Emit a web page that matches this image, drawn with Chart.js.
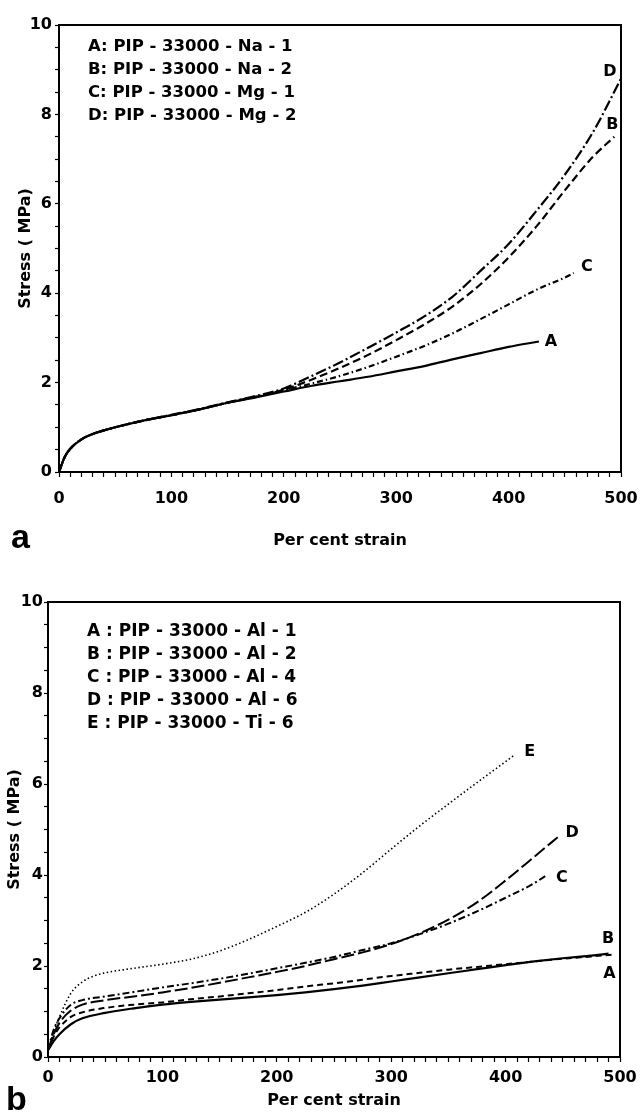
<!DOCTYPE html>
<html>
<head>
<meta charset="utf-8">
<script src="https://cdn.jsdelivr.net/npm/chart.js@4.4.1/dist/chart.umd.min.js"></script>
<style>
  html,body{margin:0;padding:0;background:#fff;}
  .box{position:absolute;left:0;width:640px;height:556px;}
  #wa{top:0;} #wb{top:556px;}
</style>
</head>
<body>
<div class="box" id="wa"><canvas id="ca" width="640" height="556"></canvas></div>
<div class="box" id="wb"><canvas id="cb" width="640" height="556"></canvas></div>
<script>
// ---------- Panel a data ----------
const aNames = ['A','B','C','D'];
const aLegend = ['A: PIP - 33000 - Na - 1','B: PIP - 33000 - Na - 2','C: PIP - 33000 - Mg - 1','D: PIP - 33000 - Mg - 2'];
const aA_x = [0,5,10,20,30,40,50,75,100,125,150,175,200,225,250,275,300,325,350,375,400,427];
const aA_y = [0,0.33,0.52,0.73,0.85,0.93,1.0,1.15,1.27,1.4,1.55,1.67,1.8,1.93,2.03,2.13,2.25,2.37,2.52,2.66,2.8,2.92];
const aB_x = [0,5,10,20,30,40,50,75,100,125,150,175,200,225,250,275,300,325,350,375,400,425,450,475,494];
const aB_y = [0,0.33,0.52,0.73,0.85,0.93,1.0,1.15,1.27,1.4,1.55,1.68,1.84,2.07,2.33,2.62,2.95,3.3,3.7,4.2,4.8,5.5,6.3,7.05,7.5];
const aC_x = [0,5,10,20,30,40,50,75,100,125,150,175,200,225,250,275,300,325,350,375,400,425,450,458];
const aC_y = [0,0.33,0.52,0.73,0.85,0.93,1.0,1.15,1.27,1.4,1.55,1.68,1.83,1.98,2.15,2.35,2.58,2.82,3.1,3.42,3.75,4.08,4.35,4.45];
const aD_x = [0,5,10,20,30,40,50,75,100,125,150,175,200,225,250,275,300,325,350,375,400,425,450,475,500];
const aD_y = [0,0.33,0.52,0.73,0.85,0.93,1.0,1.15,1.28,1.41,1.56,1.7,1.87,2.15,2.45,2.78,3.12,3.48,3.92,4.5,5.1,5.85,6.65,7.6,8.8];

// ---------- Panel b data ----------
const bNames = ['A','B','C','D','E'];
const bLegend = ['A : PIP - 33000 - Al - 1','B : PIP - 33000 - Al - 2','C : PIP - 33000 - Al - 4','D : PIP - 33000 - Al - 6','E : PIP - 33000 - Ti - 6'];
const bA_x = [0,5,10,20,30,50,75,100,125,150,175,200,225,250,275,300,325,350,375,400,425,450,475,490];
const bA_y = [0.15,0.35,0.5,0.72,0.85,0.97,1.07,1.15,1.21,1.26,1.31,1.36,1.42,1.49,1.57,1.66,1.75,1.84,1.93,2.02,2.1,2.17,2.23,2.27];
const bB_x = [0,5,10,20,30,50,75,100,125,150,175,200,225,250,275,300,325,350,375,400,425,450,475,494];
const bB_y = [0.15,0.45,0.65,0.88,0.98,1.08,1.15,1.2,1.27,1.33,1.4,1.47,1.55,1.62,1.7,1.78,1.85,1.92,1.98,2.04,2.1,2.16,2.21,2.25];
const bC_x = [0,5,10,20,30,50,75,100,125,150,175,200,225,250,275,300,325,350,375,400,425,436];
const bC_y = [0.15,0.6,0.85,1.15,1.25,1.33,1.43,1.53,1.62,1.72,1.83,1.95,2.07,2.2,2.35,2.5,2.7,2.93,3.2,3.5,3.82,4.0];
const bD_x = [0,5,10,20,30,50,75,100,125,150,175,200,225,250,275,300,325,350,375,400,425,446];
const bD_y = [0.15,0.5,0.75,1.02,1.15,1.25,1.33,1.42,1.52,1.63,1.75,1.87,2.0,2.15,2.3,2.48,2.72,3.02,3.4,3.88,4.4,4.84];
const bE_x = [0,5,10,20,30,40,50,75,100,125,150,175,200,225,250,275,300,325,350,375,408];
const bE_y = [0.15,0.55,0.88,1.4,1.65,1.78,1.85,1.95,2.04,2.15,2.33,2.58,2.87,3.18,3.58,4.05,4.57,5.08,5.56,6.03,6.64];

// ---------- styles (kept separate from data) ----------
const aDash = [[], [8,4], [6,3,1.5,3], [11,3,2,3]];
const bDash = [[], [6,4], [7,3,2,3], [13,4], [1.5,2.5]];
const bWidth = [2.2, 2, 2, 2, 1.6];
const aLabelOff = [[12,0],[-2,-12],[13,-6],[-11,-7]];
const bLabelOff = [[1,20],[-5,-16],[15,3],[14,-4],[15,-3]];

const FONT = '"DejaVu Sans", "Liberation Sans", sans-serif';

function pts(xs, ys){ return xs.map((x,i)=>({x:x, y:ys[i]})); }

function makeDatasets(series, dashes, widths){
  return series.map((s,i)=>({
    data: pts(s[0], s[1]),
    borderColor:'#000',
    borderWidth: widths ? widths[i] : 2.2,
    borderDash: dashes[i],
    pointRadius:0,
    fill:false,
    cubicInterpolationMode:'monotone'
  }));
}

function textPlugin(cfg){
  return {
    id:'txt',
    afterDatasetsDraw(chart){
      const {ctx, chartArea:ca, scales:{x,y}} = chart;
      ctx.save();
      ctx.strokeStyle='#000'; ctx.lineWidth=2;
      ctx.strokeRect(ca.left, ca.top, ca.right-ca.left, ca.bottom-ca.top);
      ctx.fillStyle='#000';
      ctx.font = 'bold ' + cfg.legSize + 'px ' + FONT;
      ctx.textAlign='left'; ctx.textBaseline='middle';
      cfg.legend.forEach((t,i)=>{
        ctx.fillText(t, ca.left+cfg.legX, ca.top+cfg.legY+i*cfg.legDy);
      });
      ctx.font = 'bold 16px ' + FONT;
      ctx.textAlign='center';
      chart.data.datasets.forEach((ds,i)=>{
        const last = ds.data[ds.data.length-1];
        const px = x.getPixelForValue(last.x)+cfg.off[i][0];
        const py = y.getPixelForValue(last.y)+cfg.off[i][1];
        ctx.fillText(cfg.names[i], px, py);
      });
      ctx.font = 'bold 34px "Liberation Sans", ' + FONT;
      ctx.textAlign='left'; ctx.textBaseline='alphabetic';
      ctx.fillText(cfg.panel, cfg.panelX, cfg.panelY);
      ctx.restore();
    }
  };
}

function makeChart(id, datasets, L){
  return new Chart(document.getElementById(id), {
    type:'line',
    data:{datasets},
    options:{
      responsive:false, animation:false,
      layout:{padding:{top:L.top, right:L.right, left:0, bottom:0}},
      plugins:{legend:{display:false}, tooltip:{enabled:false}},
      scales:{
        x:{
          type:'linear', min:0, max:500,
          border:{color:'#000', width:2},
          grid:{drawOnChartArea:false, drawTicks:true, tickLength:5, tickColor:'#000', tickWidth:1.2},
          ticks:{stepSize:10, autoSkip:false, maxRotation:0, padding:L.xTickPad, color:'#000',
                 font:{family:FONT, size:16, weight:'bold'},
                 callback:(v)=> (v % 100 === 0 ? String(v) : '')},
          title:{display:true, text:'Per cent strain', color:'#000',
                 font:{family:FONT, size:16, weight:'bold'}, padding:{top:0,bottom:L.xTitlePad}},
          afterFit:(s)=>{ s.height = L.xH; s.paddingLeft = 0; s.paddingRight = 0; }
        },
        y:{
          type:'linear', min:0, max:10,
          border:{color:'#000', width:2},
          grid:{drawOnChartArea:false, drawTicks:true, tickLength:4, tickColor:'#000', tickWidth:1.2},
          ticks:{stepSize:0.5, autoSkip:false, padding:L.yTickPad, color:'#000',
                 font:{family:FONT, size:16, weight:'bold'},
                 callback:(v)=> (Number.isInteger(v) && v % 2 === 0 ? String(v) : '')},
          title:{display:true, text:'Stress ( MPa)', color:'#000',
                 font:{family:FONT, size:16, weight:'bold'}, padding:{top:L.yTitlePad,bottom:0}},
          afterFit:(s)=>{ s.width = L.yW; s.paddingTop = 0; s.paddingBottom = 0; }
        }
      }
    },
    plugins:[textPlugin(L.txt)]
  });
}

makeChart('ca',
  makeDatasets([[aA_x,aA_y],[aB_x,aB_y],[aC_x,aC_y],[aD_x,aD_y]], aDash, null),
  {top:25, right:19, xH:84, yW:59, xTickPad:12, xTitlePad:6, yTickPad:3, yTitlePad:16,
   txt:{legend:aLegend, legSize:16.5, names:aNames, off:aLabelOff, legX:29, legY:22, legDy:23, panel:'a', panelX:11, panelY:548}});

makeChart('cb',
  makeDatasets([[bA_x,bA_y],[bB_x,bB_y],[bC_x,bC_y],[bD_x,bD_y],[bE_x,bE_y]], bDash, bWidth),
  {top:46, right:20, xH:55, yW:48, xTickPad:6, xTitlePad:2, yTickPad:1, yTitlePad:5,
   txt:{legend:bLegend, legSize:17, names:bNames, off:bLabelOff, legX:39, legY:30, legDy:23, panel:'b', panelX:6, panelY:554}});
</script>
</body>
</html>
